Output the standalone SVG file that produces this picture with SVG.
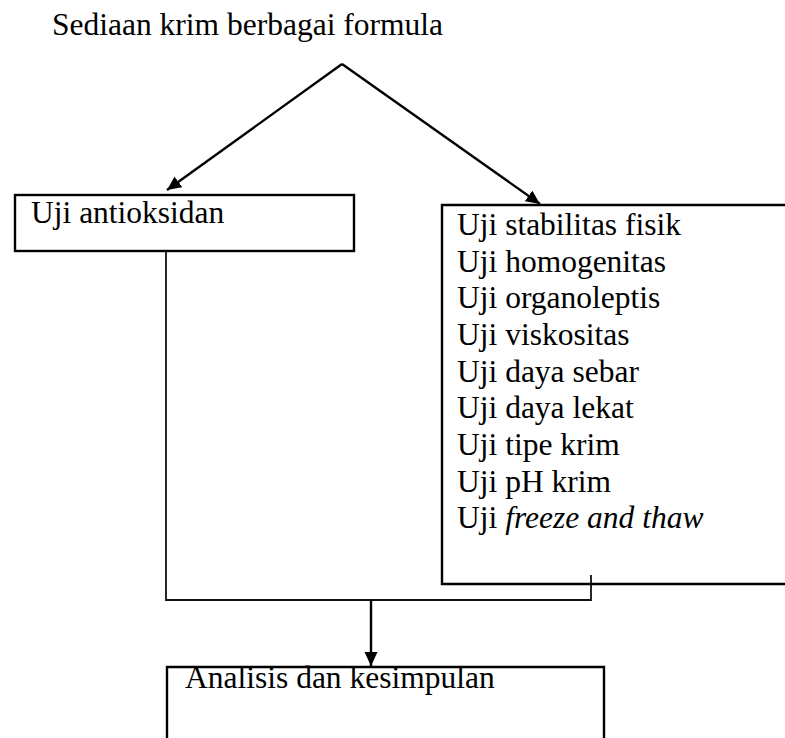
<svg xmlns="http://www.w3.org/2000/svg" width="785" height="738" viewBox="0 0 785 738">
<style>
text{font-family:"Liberation Serif",Tinos,"Times New Roman","DejaVu Serif",serif;font-size:31.5px;fill:#000}
.box{fill:none;stroke:#000;stroke-width:2.4}
.con{fill:none;stroke:#000;stroke-width:2.4}
.thin{fill:none;stroke:#111;stroke-width:1.8}
</style>
<defs>
<marker id="ah" markerUnits="userSpaceOnUse" markerWidth="16" markerHeight="14" refX="14" refY="6.5" orient="auto">
<path d="M0,0 L14,6.5 L0,13 Z" fill="#000"/>
</marker>
</defs>
<rect width="785" height="738" fill="#fff"/>
<g id="title"><text x="52" y="35">Sediaan krim berbagai formula</text></g>
<g id="connectors">
<path class="con" d="M342,64 L167,190" marker-end="url(#ah)"/>
<path class="con" d="M342,64 L540,204" marker-end="url(#ah)"/>
<path class="thin" d="M166,251 V600 H591 V575"/>
<path class="con" d="M371,600 V666" marker-end="url(#ah)"/>
</g>
<g id="antioksidan">
<rect class="box" x="15" y="195" width="339" height="56"/>
<text x="31" y="223">Uji antioksidan</text>
</g>
<g id="stabilitas">
<path class="box" d="M786,205 H442 V584 H786"/>
<text x="457" y="235">Uji stabilitas fisik</text>
<text x="457" y="271.7">Uji homogenitas</text>
<text x="457" y="308.3">Uji organoleptis</text>
<text x="457" y="345">Uji viskositas</text>
<text x="457" y="381.7">Uji daya sebar</text>
<text x="457" y="418.3">Uji daya lekat</text>
<text x="457" y="455">Uji tipe krim</text>
<text x="457" y="491.7">Uji pH krim</text>
<text x="457" y="528.3">Uji <tspan font-style="italic">freeze and thaw</tspan></text>
</g>
<g id="analisis">
<path class="box" d="M167,740 V667 H604 V740"/>
<text x="185" y="688">Analisis dan kesimpulan</text>
</g>
</svg>
